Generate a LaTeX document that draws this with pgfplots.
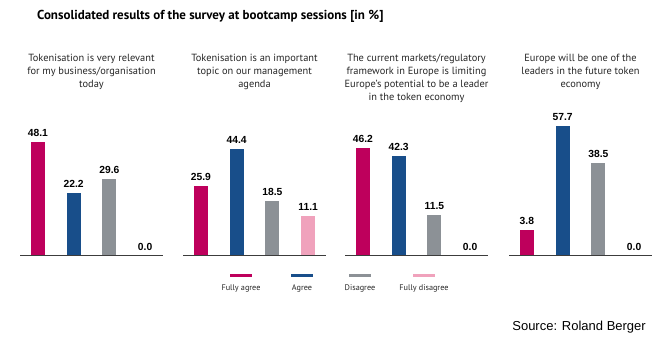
\documentclass[border=0pt]{standalone}
\usepackage{fontspec}
\setmainfont{PT Sans}
\newfontfamily\arial{Liberation Sans}
\usepackage{pgfplots}
\usepackage{pgfplotstable}
\pgfplotsset{compat=1.18}
\definecolor{rbmag}{RGB}{190,0,92}
\definecolor{rbblue}{RGB}{24,78,138}
\definecolor{rbgray}{RGB}{140,145,150}
\definecolor{rbpink}{RGB}{240,162,188}
\definecolor{basecol}{RGB}{60,60,60}

\pgfplotstableread{
x v
0 48.1
1 22.2
2 29.6
3 0.0
}\tA
\pgfplotstableread{
x v
0 25.9
1 44.4
2 18.5
3 11.1
}\tB
\pgfplotstableread{
x v
0 46.2
1 42.3
2 11.5
3 0.0
}\tC
\pgfplotstableread{
x v
0 3.8
1 57.7
2 38.5
3 0.0
}\tD

% #1 table, #2 index, #3 colour, #4 offset
\newcommand{\onebar}[4]{%
  \addplot[ybar, bar width=14bp, bar shift=0pt, fill=#3, draw=none,
    restrict x to domain=#2:#2, point meta=explicit,
    nodes near coords={\pgfmathprintnumber[fixed,fixed zerofill,precision=1,assume math mode=true]{\pgfplotspointmeta}},
    every node near coord/.append style={anchor=base, yshift=5.5bp, text=black,
      font=\arial\bfseries\fontsize{10.3bp}{12bp}\selectfont}]
    table[x=x, y expr={\thisrow{v}>0 ? \thisrow{v}+#4 : 0}, meta=v] {#1};
}
\newcommand{\panel}[4]{% #1 table, #2 left x, #3 offset, #4 ymax
  \begin{axis}[at={(#2,104bp)}, anchor=south west, scale only axis,
    width=143bp, height=140bp, xmin=-0.5, xmax=3.5, ymin=0, ymax=#4,
    hide axis, clip=false]
    \onebar{#1}{0}{rbmag}{#3}
    \onebar{#1}{1}{rbblue}{#3}
    \onebar{#1}{2}{rbgray}{#3}
    \onebar{#1}{3}{rbpink}{#3}
    \draw[line width=1bp, basecol] (rel axis cs:0,0) -- (rel axis cs:1,0);
  \end{axis}
}

\begin{document}
\begin{tikzpicture}
\useasboundingbox (0,0) rectangle (665bp,360bp);
\panel{\tA}{20bp}{9.1}{70}
\panel{\tB}{183bp}{9.1}{70}
\panel{\tC}{345bp}{9.5}{72.5}
\panel{\tD}{509bp}{9.5}{72.5}

\node[anchor=base west, inner sep=0pt, font=\bfseries\fontsize{13bp}{15bp}\selectfont]
  at (37bp,340bp) {Consolidated results of the survey at bootcamp sessions [in \%]};

\tikzset{sub/.style={anchor=north, inner sep=0pt, align=center,
  font=\fontsize{10.4bp}{13bp}\selectfont, text=black!85}}
\node[sub] at (91.5bp,306bp) {Tokenisation is very relevant\\for my business/organisation\\today};
\node[sub] at (254.5bp,306bp) {Tokenisation is an important\\topic on our management\\agenda};
\node[sub] at (416.5bp,306bp) {The current markets/regulatory\\framework in Europe is limiting\\Europe's potential to be a leader\\in the token economy};
\node[sub] at (580.5bp,306bp) {Europe will be one of the\\leaders in the future token\\economy};

\tikzset{leg/.style={anchor=base, inner sep=0pt, font=\fontsize{8.2bp}{10bp}\selectfont, text=black!85}}
\foreach \cx/\col/\lab in {241/rbmag/Fully agree, 302/rbblue/Agree, 360/rbgray/Disagree, 424/rbpink/Fully disagree}{
  \draw[line width=3.5bp, \col] (\cx bp-11bp,84.3bp) -- (\cx bp+11bp,84.3bp);
  \node[leg] at (\cx bp,69bp) {\lab};
}

\node[anchor=base east, inner sep=0pt, font=\arial\fontsize{13bp}{15bp}\selectfont]
  at (646bp,30bp) {Source: Roland Berger};
\end{tikzpicture}
\end{document}
